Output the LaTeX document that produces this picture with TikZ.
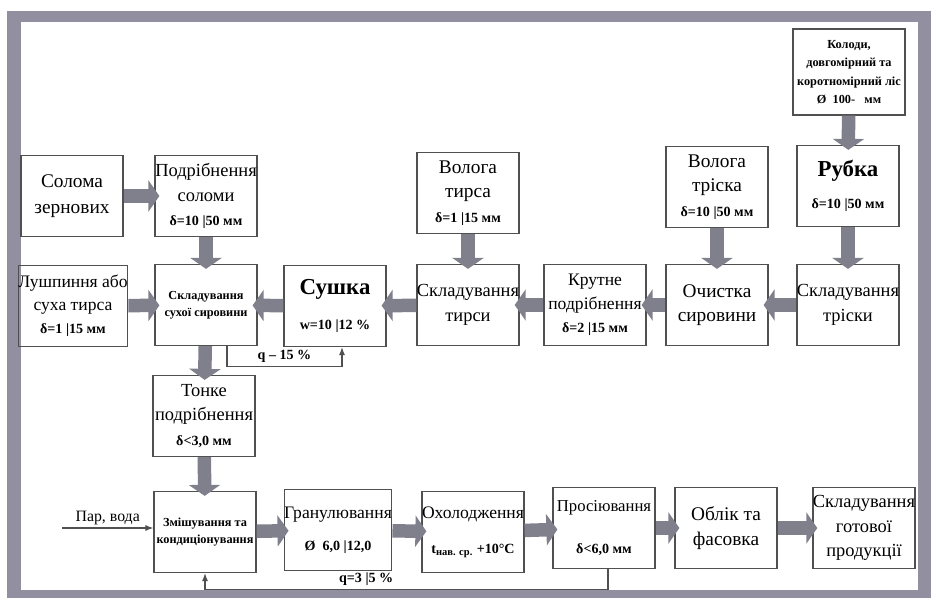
\documentclass[tikz,border=0pt]{standalone}
\usepackage{fontspec}
\setmainfont{Liberation Serif}
\usetikzlibrary{positioning,arrows.meta,calc}

\definecolor{framegray}{RGB}{146,144,160}
\definecolor{boxgray}{RGB}{80,80,80}
\definecolor{arrowgray}{RGB}{128,128,140}

\tikzset{
  stage/.style={draw=boxgray, line width=0.7pt, minimum width=20.4mm, minimum height=16.2mm,
    inner sep=0pt, align=center, font=\fontsize{10.5}{14}\selectfont},
  bigarrow/.style={arrowgray, line width=2.7mm, -{Triangle[length=2.2mm,width=6.2mm]}, shorten >=-1mm},
  thinflow/.style={boxgray, line width=0.6pt, -{Latex[length=1.6mm,width=1.2mm]}},
  note/.style={text=black, font=\fontsize{8}{9}\selectfont\bfseries, inner sep=1.5pt},
}
\newcommand{\dsize}{\fontsize{8}{10}\selectfont\bfseries}

\begin{document}
\begin{tikzpicture}[x=0.2mm, y=-0.2mm]
  \useasboundingbox (0,0) rectangle (936,601);
  % frame
  \fill[framegray] (7,11) rectangle (931,598);
  \fill[white] (21,22) rectangle (918,590);

  % upper part: raw material
  \node[stage, font=\fontsize{11}{15}\selectfont] (straw) at (72,196) {Солома\\зернових};
  \node[stage] (grind) at (206,196) {Подрібнення\\соломи\\{\dsize δ=10 |50 мм}};
  \node[stage, font=\fontsize{10}{13}\selectfont] (husk) at (73,306) {Лушпиння або\\суха тирса\\{\dsize δ=1 |15 мм}};
  \node[stage, font=\fontsize{7}{9.5}\selectfont\bfseries] (storedry) at (206,305) {Складування\\сухої сировини};
  \node[stage] (dry) at (335,306) {{\fontsize{13}{15}\selectfont\bfseries Сушка}\\[6pt]{\dsize w=10 |12 \%}};
  \node[stage, font=\fontsize{11}{14}\selectfont] (wetsaw) at (468,193) {Волога\\тирса\\{\dsize δ=1 |15 мм}};
  \node[stage] (storesaw) at (468,305) {Складування\\тирси};
  \node[stage, font=\fontsize{10}{13.5}\selectfont] (coarse) at (595,305) {Крутне\\подрібнення\\{\dsize δ=2 |15 мм}};
  \node[stage, font=\fontsize{11}{14}\selectfont] (clean) at (717,305) {Очистка\\сировини};
  \node[stage] (storechip) at (848,305) {Складування\\тріски};
  \node[stage, font=\fontsize{11}{14}\selectfont] (wetchip) at (717,187) {Волога\\тріска\\{\dsize δ=10 |50 мм}};
  \node[stage] (chop) at (848,186) {{\fontsize{13}{15}\selectfont\bfseries Рубка}\\[4pt]{\dsize δ=10 |50 мм}};
  \node[stage, minimum width=22.4mm, minimum height=17.2mm, font=\fontsize{7}{10.5}\selectfont\bfseries] (logs) at (849,72)
    {Колоди,\\довгомірний та\\коротномірний ліс\\Ø\ \ 100-\ \ \ мм};

  % lower part: pellets
  \node[stage] (fine) at (204,416) {Тонке\\подрібнення\\{\dsize δ<3,0 мм}};
  \node[stage, font=\fontsize{7}{10}\selectfont\bfseries] (mix) at (205,532) {Змішування та\\кондиціонування};
  \node[stage, font=\fontsize{10}{13}\selectfont] (pellet) at (338,530) {Гранулювання\\[5pt]{\dsize Ø\ \ 6,0 |12,0}};
  \node[stage, font=\fontsize{10}{13}\selectfont] (cool) at (473,532) {Охолодження\\[7pt]{\dsize t\textsubscript{нав. ср.} +10°C}};
  \node[stage, font=\fontsize{9.5}{12}\selectfont] (sieve) at (604,528) {Просіювання\\[12pt]{\dsize δ<6,0 мм}};
  \node[stage, font=\fontsize{11}{14}\selectfont] (pack) at (726,528) {Облік та\\фасовка};
  \node[stage] (storeprod) at (864,528) {Складування\\готової\\продукції};

  % main flow
  \draw[bigarrow] (straw) -- (grind);
  \draw[bigarrow] (grind) -- (storedry);
  \draw[bigarrow] (husk) -- (storedry);
  \draw[bigarrow] (dry) -- (storedry);
  \draw[bigarrow] (storesaw) -- (dry);
  \draw[bigarrow] (coarse) -- (storesaw);
  \draw[bigarrow] (clean) -- (coarse);
  \draw[bigarrow] (storechip) -- (clean);
  \draw[bigarrow] (wetsaw) -- (storesaw);
  \draw[bigarrow] (wetchip) -- (clean);
  \draw[bigarrow] (chop) -- (storechip);
  \draw[bigarrow] (logs) -- (chop);
  \draw[bigarrow] (storedry) -- (fine);
  \draw[bigarrow] (fine) -- (mix);
  \draw[bigarrow] (mix) -- (pellet);
  \draw[bigarrow] (pellet) -- (cool);
  \draw[bigarrow] (cool) -- (sieve);
  \draw[bigarrow] (sieve) -- (pack);
  \draw[bigarrow] (pack) -- (storeprod);

  % thin lines
  \draw[thinflow] ($(storedry.south)+(21,0)$) -- ++(0,20)
    -| node[pos=0.25, above, note] {q – 15 \%} ($(dry.south)+(7,0)$);
  \coordinate (steam) at (62,528);
  \draw[thinflow] (steam) -- node[above, note, font=\fontsize{9}{10}\selectfont] {Пар, вода} (steam -| mix.west);
  \draw[thinflow] ($(sieve.south)+(4,0)$) -- ++(0,20)
    -| node[pos=0.3, above, note] {q=3 |5 \%} (mix.south);
\end{tikzpicture}
\end{document}
